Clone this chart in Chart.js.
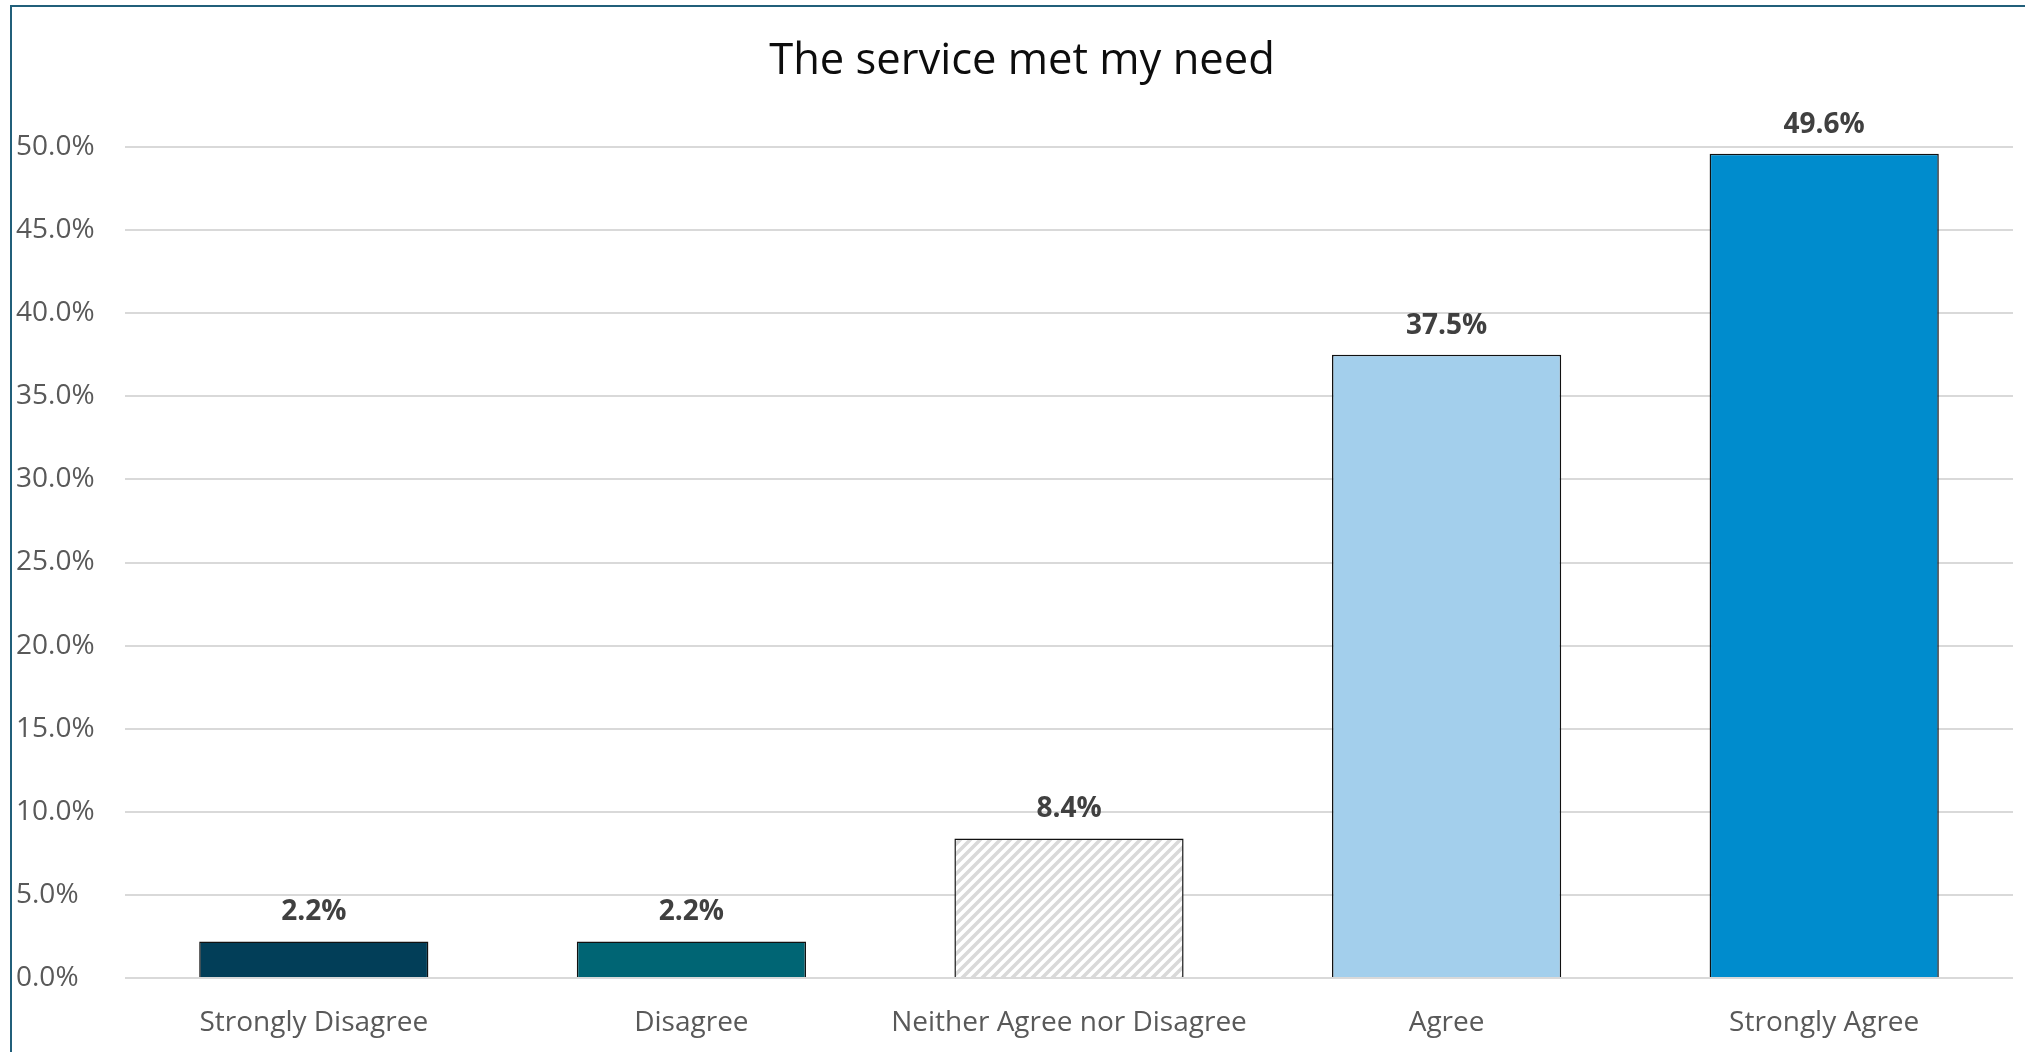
<!DOCTYPE html>
<html>
<head>
<meta charset="utf-8">
<title>The service met my need</title>
<script src="https://cdn.jsdelivr.net/npm/chart.js@4/dist/chart.umd.min.js"></script>
<style>
  html, body { margin: 0; padding: 0; background: #fff; }
  .wrap { position: relative; width: 2025px; height: 1052px; }
</style>
</head>
<body>
<div class="wrap"><canvas id="chartNeed"></canvas></div>
<script>
const chartTitle = 'The service met my need';
const categories = ['Strongly Disagree', 'Disagree', 'Neither Agree nor Disagree', 'Agree', 'Strongly Agree'];
const values = [2.2, 2.2, 8.4, 37.5, 49.6];
const yTicks = [0, 5, 10, 15, 20, 25, 30, 35, 40, 45, 50];

// light grey "wide upward diagonal" fill for the neutral bar
function hatch() {
    const c = document.createElement('canvas');
    c.width = 10; c.height = 10;
    const g = c.getContext('2d');
    g.fillStyle = '#ffffff';
    g.fillRect(0, 0, 10, 10);
    g.strokeStyle = '#d9d9d9';
    g.lineWidth = 3.5;
    g.beginPath();
    g.moveTo(-2, 12); g.lineTo(12, -2);
    g.moveTo(-2, 2); g.lineTo(2, -2);
    g.moveTo(8, 12); g.lineTo(12, 8);
    g.stroke();
    return g.createPattern(c, 'repeat');
}

const frameAndTitle = {
    id: 'frameAndTitle',
    beforeDraw(chart) {
        const ctx = chart.ctx;
        ctx.save();
        ctx.strokeStyle = '#215f7a';
        ctx.lineWidth = 2;
        ctx.beginPath();
        ctx.moveTo(11, chart.height + 5);
        ctx.lineTo(11, 6);
        ctx.lineTo(chart.width + 5, 6);
        ctx.stroke();
        ctx.fillStyle = '#0d0d0d';
        ctx.font = '43.5px "Open Sans"';
        ctx.textAlign = 'center';
        ctx.textBaseline = 'alphabetic';
        ctx.fillText(chartTitle, 1022, 74);
        ctx.restore();
    }
};

const barLabels = {
    id: 'barLabels',
    afterDatasetsDraw(chart) {
        const ctx = chart.ctx;
        const meta = chart.getDatasetMeta(0);
        ctx.save();
        ctx.fillStyle = '#404040';
        ctx.font = 'bold 28px "Open Sans"';
        ctx.textAlign = 'center';
        ctx.textBaseline = 'alphabetic';
        meta.data.forEach((bar, i) => {
            ctx.fillText(values[i].toFixed(1) + '%', bar.x, bar.y - 21);
        });
        ctx.restore();
    }
};

const ctxNeed = document.getElementById('chartNeed').getContext('2d');
const chartNeed = new Chart(ctxNeed, {
    type: 'bar',
    data: {
        labels: categories,
        datasets: [{
            data: values,
            backgroundColor: ['#023e58', '#006574', hatch(), '#a3cfec', '#008ccd'],
            borderColor: '#111111',
            borderWidth: 1.5,
            barPercentage: 0.607,
            categoryPercentage: 1
        }]
    },
    options: {
        responsive: true,
        maintainAspectRatio: false,
        animation: false,
        layout: { padding: { left: 16, right: 12, top: 147, bottom: 0 } },
        plugins: {
            legend: { display: false },
            tooltip: { enabled: false }
        },
        scales: {
            x: {
                grid: { display: false },
                border: { display: false },
                ticks: {
                    color: '#595959',
                    font: { family: 'Open Sans', size: 28 },
                    padding: 20,
                    maxRotation: 0,
                    autoSkip: false
                },
                afterFit: s => { s.height = 74; }
            },
            y: {
                min: 0,
                max: 50,
                afterBuildTicks: s => { s.ticks = yTicks.map(v => ({ value: v })); },
                grid: { color: '#d9d9d9', lineWidth: 2, drawTicks: false },
                border: { display: false },
                ticks: {
                    color: '#595959',
                    font: { family: 'Open Sans', size: 28 },
                    crossAlign: 'far',
                    padding: 0,
                    callback: v => v.toFixed(1) + '%'
                },
                afterFit: s => { s.width = 109; }
            }
        }
    },
    plugins: [frameAndTitle, barLabels]
});
</script>
</body>
</html>
